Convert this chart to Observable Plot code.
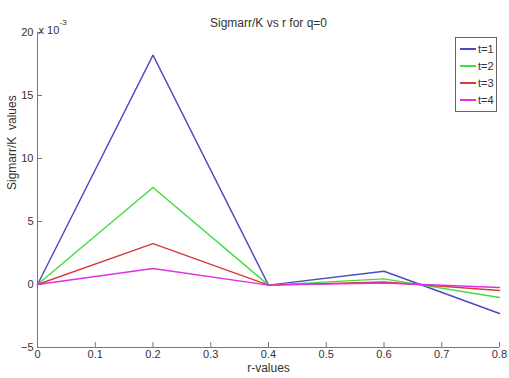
<!DOCTYPE html>
<html><head><meta charset="utf-8">
<script src="https://cdn.jsdelivr.net/npm/d3@7"></script>
<script src="https://cdn.jsdelivr.net/npm/@observablehq/plot@0.6"></script>
<style>
body{margin:0;background:#fff;font-family:"Liberation Sans",Arial,sans-serif;}
#wrap{position:relative;width:509px;height:378px;}
#legend{position:absolute;left:455px;top:37px;width:42px;height:75px;border:1px solid #666;background:#fff;box-sizing:border-box;padding-top:2px;}
.li{display:flex;align-items:center;height:17px;font-size:11px;color:#333;}
.li span.sw{display:inline-block;width:16px;height:0;border-top:2px solid;margin:0 2px 0 4px;}
</style></head>
<body><div id="wrap"></div>
<script>
const rValues = [0, 0.2, 0.4, 0.6, 0.8];
const seriesNames = ["t=1", "t=2", "t=3", "t=4"];
const t1 = [0, 18.2, -0.05, 1.05, -2.3];
const t2 = [0, 7.7, -0.05, 0.45, -1.03];
const t3 = [0, 3.25, -0.05, 0.2, -0.48];
const t4 = [0, 1.27, -0.05, 0.12, -0.24];
const colors = ["#4a4ac4", "#3ede3e", "#d83a3a", "#e030e0"];
const xTicks = [0, 0.1, 0.2, 0.3, 0.4, 0.5, 0.6, 0.7, 0.8];
const yTicks = [-5, 0, 5, 10, 15, 20];

const allSeries = [t1, t2, t3, t4];
const data = allSeries.flatMap((s, i) => s.map((v, j) => ({r: rValues[j], v, t: seriesNames[i]})));

const axisColor = "#777";
const plot = Plot.plot({
  width: 509, height: 378,
  marginLeft: 37, marginRight: 10, marginTop: 32, marginBottom: 31,
  style: {fontFamily: "Liberation Sans, Arial, sans-serif", fontSize: "11px", color: "#333"},
  x: {domain: [0, 0.8]},
  y: {domain: [-5, 20]},
  color: {domain: seriesNames, range: colors},
  marks: [
    Plot.axisX({ticks: xTicks, tickSize: -5, tickFormat: () => "", stroke: axisColor, label: null}),
    Plot.axisX({ticks: xTicks, tickSize: 0, tickPadding: 3, tickFormat: d => d3.format("")(d), label: null, fill: "#333"}),
    Plot.axisY({ticks: yTicks, tickSize: -5, tickFormat: () => "", stroke: axisColor, label: null}),
    Plot.axisY({ticks: yTicks, tickSize: 0, tickPadding: 4, label: null, fill: "#333"}),
    Plot.ruleX([0], {stroke: axisColor}),
    Plot.ruleY([-5], {stroke: axisColor}),
    Plot.line(data, {x: "r", y: "v", z: "t", stroke: "t", strokeWidth: 1.4}),
    Plot.text(["Sigmarr/K vs r for q=0"], {frameAnchor: "top", dy: -14, fontSize: 12, fill: "#333"}),
    Plot.text(["r-values"], {frameAnchor: "bottom", dy: 24, fontSize: 12, fill: "#333"}),
    Plot.text(["Sigmarr/K  values"], {frameAnchor: "left", dx: -25, rotate: -90, fontSize: 12, fill: "#333"}),
    Plot.text(["x 10"], {frameAnchor: "top-left", dx: 1, dy: -6, textAnchor: "start", fontSize: 11, fill: "#333"}),
    Plot.text(["-3"], {frameAnchor: "top-left", dx: 22, dy: -13, textAnchor: "start", fontSize: 8, fill: "#333"})
  ]
});
const wrap = document.getElementById("wrap");
wrap.appendChild(plot);
const leg = document.createElement("div");
leg.id = "legend";
seriesNames.forEach((n, i) => {
  const d = document.createElement("div");
  d.className = "li";
  d.innerHTML = `<span class="sw" style="border-color:${colors[i]}"></span>${n}`;
  leg.appendChild(d);
});
wrap.appendChild(leg);
</script></body></html>
